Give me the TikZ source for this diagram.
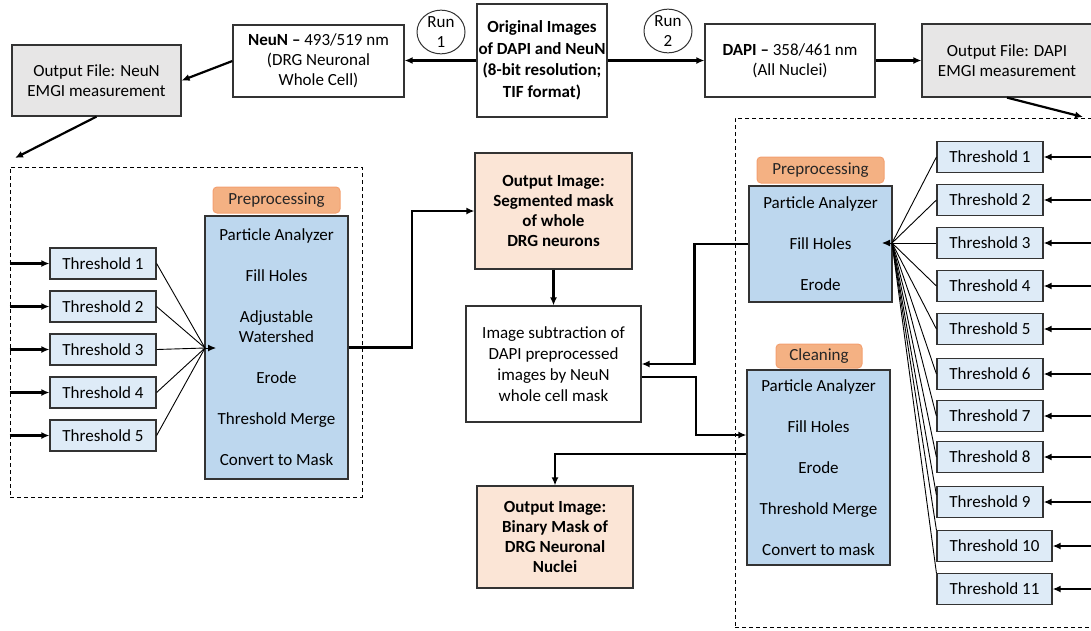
\documentclass[tikz,border=0pt]{standalone}
\usepackage{fontspec}
\setmainfont{Carlito}
\usetikzlibrary{arrows.meta,calc,shapes.geometric}
\definecolor{blueA}{HTML}{BDD7EE}
\definecolor{blueB}{HTML}{DEEBF7}
\definecolor{tagfill}{HTML}{F4B183}
\definecolor{tagdraw}{HTML}{F3A070}
\definecolor{peach}{HTML}{FBE5D6}
\definecolor{grayfill}{HTML}{E7E6E6}
\definecolor{edge}{HTML}{333333}
\begin{document}
\begin{tikzpicture}[x=1pt,y=-1pt,
  font=\fontsize{17}{20}\selectfont,
  box/.style={draw=edge, line width=1.2pt, align=center, inner sep=0pt, text=black},
  thr/.style={box, fill=blueB, minimum width=106pt, minimum height=31pt},
  thrw/.style={box, fill=blueB, minimum width=115pt, minimum height=31pt},
  proc/.style={box, fill=blueA},
  tagbox/.style={draw=tagdraw, fill=tagfill, rounded corners=4pt, line width=1pt, inner sep=0pt, text=black!85},
  outimg/.style={box, fill=peach, font=\fontsize{17}{20}\selectfont\bfseries},
  runel/.style={draw=edge, line width=1pt, ellipse, inner sep=0pt, align=center, minimum width=48pt, minimum height=42pt},
  frame/.style={draw=black, line width=1pt, dash pattern=on 4pt off 3pt},
  arr/.style={line width=2.2pt, -{Latex[length=8pt,width=7pt]}},
  conn/.style={line width=2.2pt},
  thin/.style={line width=0.9pt},
  thinarr/.style={line width=1pt, -{Latex[length=8pt,width=7pt]}}
]
\useasboundingbox (0,0) rectangle (1091,630);

% ---------- top row ----------
\node[box, fill=grayfill, minimum width=169pt, minimum height=71pt] (onn) at (96.5,80.5) {Output File: NeuN\\EMGI measurement};
\node[box, minimum width=171pt, minimum height=72pt] (neun) at (318.5,61) {\textbf{NeuN –} 493/519 nm\\(DRG Neuronal\\Whole Cell)};
\node[runel] (run1) at (441,32) {Run\\1};
\node[box, minimum width=130pt, minimum height=113pt, font=\fontsize{17}{21.5}\selectfont\bfseries] (orig) at (542,60.5) {Original Images\\of DAPI and NeuN\\(8-bit resolution;\\TIF format)};
\node[runel] (run2) at (668,31) {Run\\2};
\node[box, minimum width=170pt, minimum height=73pt] (dapi) at (790,60.5) {\textbf{DAPI –} 358/461 nm\\(All Nuclei)};
\node[box, fill=grayfill, minimum width=170pt, minimum height=73pt] (odapi) at (1007,60.5) {Output File: DAPI\\EMGI measurement};

% ---------- left dashed panel ----------
\node[frame, minimum width=352pt, minimum height=330pt, inner sep=0pt] (lframe) at (186,332) {};
\coordinate (lfin) at (15,158);
\node[tagbox, minimum width=127pt, minimum height=26pt] (ltag) at (276.5,200) {Preprocessing};
\node[proc, minimum width=143pt, minimum height=263pt] (lblue) at (276.5,347.5)
  {Particle Analyzer\\[21pt]Fill Holes\\[21pt]Adjustable\\Watershed\\[21pt]Erode\\[21pt]Threshold Merge\\[21pt]Convert to Mask};
\node[thr] (lt1) at (103,263.5) {Threshold 1};
\node[thr] (lt2) at (103,306.5) {Threshold 2};
\node[thr] (lt3) at (103,349.5) {Threshold 3};
\node[thr] (lt4) at (103,392.5) {Threshold 4};
\node[thr] (lt5) at (103,435.5) {Threshold 5};
\coordinate (lconv) at (205,348);
\coordinate (lconvtip) at (216,348);

% ---------- middle ----------
\node[outimg, minimum width=157pt, minimum height=116pt] (seg) at (553.5,211) {Output Image:\\Segmented mask\\of whole\\DRG neurons};
\node[box, minimum width=175pt, minimum height=116pt, font=\fontsize{17}{21}\selectfont] (sub) at (553.5,364) {Image subtraction of\\DAPI preprocessed\\images by NeuN\\whole cell mask};
\node[outimg, minimum width=156pt, minimum height=102pt] (bin) at (555,537) {Output Image:\\Binary Mask of\\DRG Neuronal\\Nuclei};

% ---------- right dashed panel ----------
\node[frame, minimum width=365pt, minimum height=509pt, inner sep=0pt] (rframe) at (917.5,372.5) {};
\coordinate (rfin) at (1083,117);
\coordinate (redge) at (1092,0);
\node[tagbox, minimum width=127pt, minimum height=26pt] (rtag) at (820.5,170) {Preprocessing};
\node[proc, minimum width=143pt, minimum height=116pt] (rpre) at (820.5,244)
  {Particle Analyzer\\[21pt]Fill Holes\\[21pt]Erode};
\node[tagbox, minimum width=86pt, minimum height=24pt] (ctag) at (819,356) {Cleaning};
\node[proc, minimum width=143pt, minimum height=195pt] (clean) at (818.5,467.5)
  {Particle Analyzer\\[21pt]Fill Holes\\[21pt]Erode\\[21pt]Threshold Merge\\[21pt]Convert to mask};
\node[thr] (rt1) at (990,157) {Threshold 1};
\node[thr] (rt2) at (990,200) {Threshold 2};
\node[thr] (rt3) at (990,243) {Threshold 3};
\node[thr] (rt4) at (990,286) {Threshold 4};
\node[thr] (rt5) at (990,329) {Threshold 5};
\node[thr] (rt6) at (990,374) {Threshold 6};
\node[thr] (rt7) at (990,416) {Threshold 7};
\node[thr] (rt8) at (990,457) {Threshold 8};
\node[thr] (rt9) at (990,502) {Threshold 9};
\node[thrw] (rt10) at (994.5,546) {Threshold 10};
\node[thrw] (rt11) at (994.5,589) {Threshold 11};
\coordinate (rconv) at (892,243);
\coordinate (rconvtip) at (882,243);

% ---------- connectors ----------
\draw[arr] (orig.west) -- (orig.west -| neun.east);
\draw[arr] (orig.east) -- (orig.east -| dapi.west);
\draw[arr] (dapi.east) -- (odapi.west);
\draw[arr] (neun.west) -- (onn.east);
\draw[arr] (onn.south) -- (lfin);
\draw[arr] (odapi.south) -- (rfin);

\foreach \i in {1,...,5}{
  \draw[arr] (lt\i.west -| lframe.west) -- (lt\i.west);
  \draw[thin] (lt\i.east) -- (lconv);
}
\draw[thinarr] (lconv) -- (lconvtip);
\draw[arr] (lblue.east) -- ++(63,0) |- (seg.west);
\draw[arr] (seg.south) -- (sub.north);
\draw[arr] (rpre.west) -- ++(-54,0) |- (sub.east);
\draw[arr] ($(sub.east)+(0,13)$) -- ++(54,0) |- ($(clean.west)+(0,-32.5)$);
\draw[arr] ($(clean.west)+(0,-13.5)$) -| (bin.north);

\foreach \i in {1,...,11}{
  \draw[arr] (rt\i.east -| redge) -- (rt\i.east);
}
\foreach \i in {1,...,8}{
  \draw[thin] (rt\i.west) -- (rconv);
}
\draw[thin] ($(rt9.west)+(0,-7)$) -- (rconv);
\draw[thin] (rt10.north west) -- (rconv);
\draw[thin] (rt11.north west) -- (rconv);
\draw[thinarr] (rconv) -- (rconvtip);
\end{tikzpicture}
\end{document}
